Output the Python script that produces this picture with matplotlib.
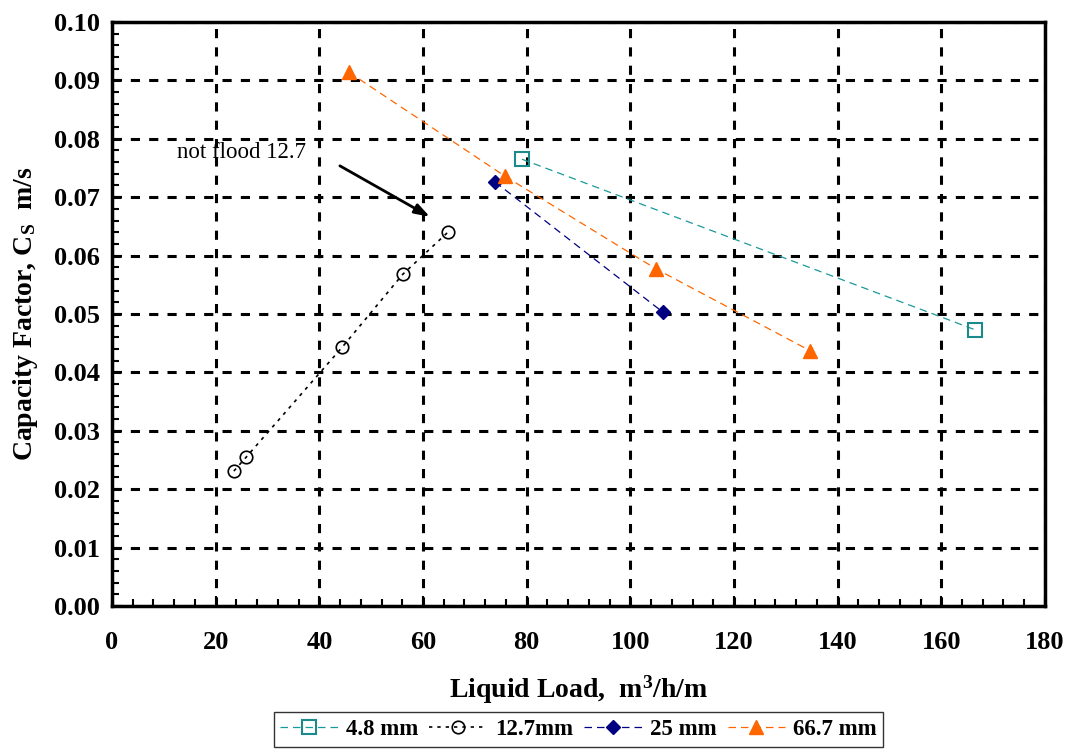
"""Capacity factor vs liquid load for several packing sizes."""

import matplotlib.pyplot as plt
from matplotlib.ticker import MultipleLocator

plt.rcParams["font.family"] = ["Liberation Serif", "DejaVu Serif"]
plt.rcParams["mathtext.fontset"] = "custom"
plt.rcParams["mathtext.rm"] = "Liberation Serif"
plt.rcParams["mathtext.bf"] = "Liberation Serif:bold"

# Data
x_48 = [79.1, 166.5]
y_48 = [0.0765, 0.0473]

x_127 = [23.5, 25.9, 44.4, 56.1, 64.8]
y_127 = [0.0231, 0.0255, 0.0443, 0.0568, 0.0640]

x_25 = [73.9, 106.3]
y_25 = [0.0726, 0.0503]

x_667 = [45.7, 75.8, 105.0, 134.7]
y_667 = [0.0914, 0.0736, 0.0577, 0.0437]

labels = ["4.8 mm", "12.7mm", "25 mm", "66.7 mm"]

fig = plt.figure(figsize=(10.7, 7.55), dpi=100)
ax = fig.add_axes([0.1047, 0.1974, 0.8719, 0.7735])

ax.plot(x_48, y_48, linestyle=(0, (6, 4)), color="#1a9999", linewidth=0.9,
        marker="s", markersize=10, markerfacecolor="none",
        markeredgecolor="#1a8a8a", markeredgewidth=1.5, label=labels[0])
ax.plot(x_127, y_127, linestyle=(0, (2, 3)), color="black", linewidth=1.2,
        marker="o", markersize=9, markerfacecolor="none",
        markeredgecolor="black", markeredgewidth=1.2, label=labels[1])
ax.plot(x_25, y_25, linestyle=(0, (6, 4)), color="#000080", linewidth=0.9,
        marker="D", markersize=7, markerfacecolor="#000080",
        markeredgecolor="#000080", label=labels[2])
ax.plot(x_667, y_667, linestyle=(0, (6, 4)), color="#ff6600", linewidth=0.9,
        marker="^", markersize=10, markerfacecolor="#ff6600",
        markeredgecolor="#ff6600", label=labels[3])

# Annotation
ax.annotate("", xy=(61.8, 0.0664), xytext=(43.5, 0.0756),
            arrowprops=dict(arrowstyle="-|>,head_length=0.9,head_width=0.3",
                            color="black", linewidth=2))
ax.text(12.6, 0.0776, "not flood 12.7", fontsize=16.5, ha="left", va="center")

# Axes and styling
ax.set_xlim(0, 180)
ax.set_ylim(0, 0.1)
ax.xaxis.set_major_locator(MultipleLocator(20))
ax.xaxis.set_minor_locator(MultipleLocator(4))
ax.yaxis.set_major_locator(MultipleLocator(0.01))
ax.yaxis.set_minor_locator(MultipleLocator(0.002))
ax.yaxis.set_major_formatter(plt.FuncFormatter(lambda v, p: f"{v:.2f}"))
ax.tick_params(which="both", direction="in", top=False, right=False)
ax.tick_params(which="major", length=7, width=1.5, labelsize=19)
ax.tick_params(which="minor", length=5, width=1.5)
ax.tick_params(axis="x", which="major", pad=18)
ax.tick_params(axis="y", which="major", pad=9)
for lbl in ax.get_xticklabels() + ax.get_yticklabels():
    lbl.set_fontweight("bold")
for spine in ax.spines.values():
    spine.set_linewidth(2.5)

ax.grid(which="major", color="black", linestyle=(0, (3, 3)), linewidth=2.2)

ax.set_xlabel(r"Liquid Load,  m$\mathbf{^3}$/h/m", fontsize=20, fontweight="bold",
              labelpad=14)
ax.set_ylabel(r"Capacity Factor, C$\mathbf{_S}$  m/s", fontsize=20,
              fontweight="bold", labelpad=10)

leg = ax.legend(loc="upper center", bbox_to_anchor=(0.5, -0.182), ncol=4,
                frameon=True, fancybox=False, edgecolor="black",
                handlelength=2.5, handletextpad=0.35, columnspacing=0.5,
                borderpad=0.3, borderaxespad=0,
                prop={"weight": "bold", "size": 16.5})
leg.get_frame().set_linewidth(1.0)

plt.savefig("out.png", dpi=100)
plt.close()
